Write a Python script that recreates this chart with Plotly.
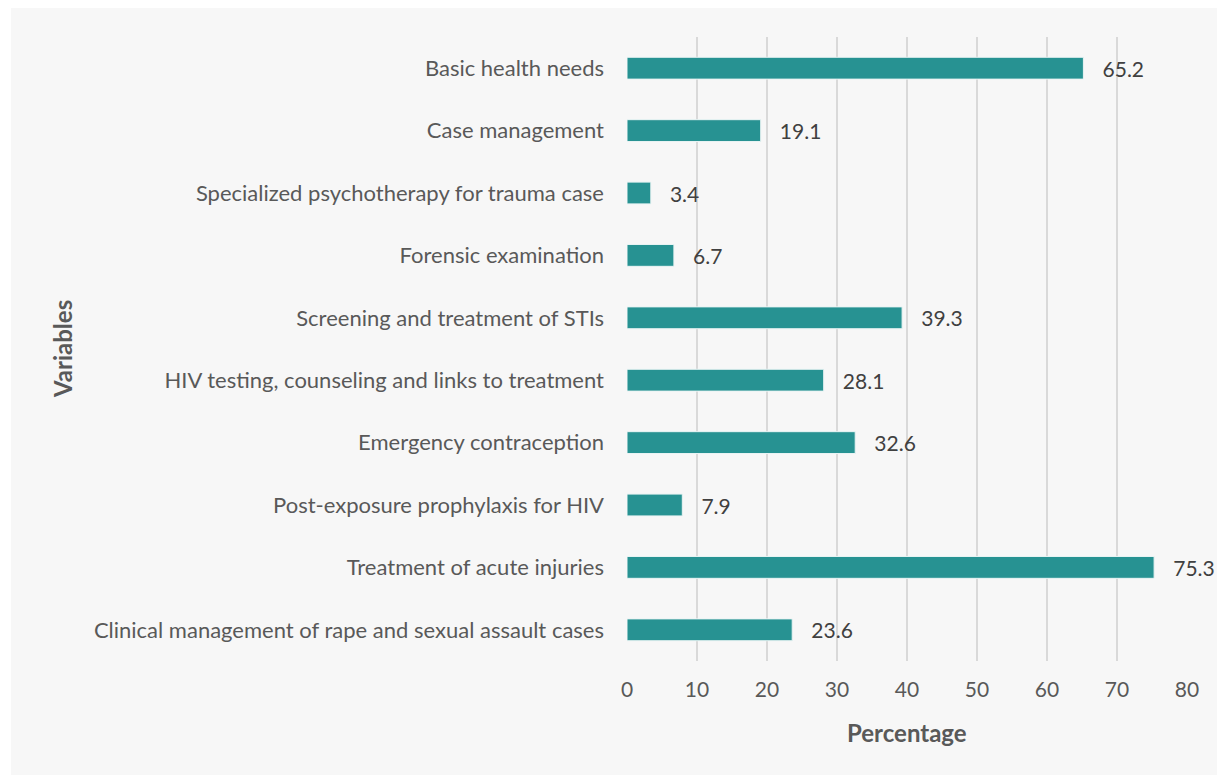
import plotly.graph_objects as go

categories = [
    "Clinical management of rape and sexual assault cases",
    "Treatment of acute injuries",
    "Post-exposure prophylaxis for HIV",
    "Emergency contraception",
    "HIV testing, counseling and links to treatment",
    "Screening and treatment of STIs",
    "Forensic examination",
    "Specialized psychotherapy for trauma case",
    "Case management",
    "Basic health needs",
]
values = [23.6, 75.3, 7.9, 32.6, 28.1, 39.3, 6.7, 3.4, 19.1, 65.2]
x_ticks = [0, 10, 20, 30, 40, 50, 60, 70, 80]

FONT = "Lato"
GREY = "#595959"
fig = go.Figure()
fig.add_trace(go.Bar(
    y=categories, x=values, orientation="h",
    width=0.35,
    marker=dict(color="#279292", line=dict(color="#eaf4f4", width=1)),
    text=["\u00a0\u00a0\u00a0" + f"{v:.1f}" for v in values], textposition="outside",
    textfont=dict(family=FONT, size=21, color="#404040"),
    constraintext="none",
    cliponaxis=False,
))

# page body has an 8px margin, so figure origin sits at (8, 8) in the window
W, H = 1217, 767
l, r, t, b = 619, 38, 29, 114
pw, ph = W - l - r, H - t - b

fig.add_shape(type="rect", xref="paper", yref="paper", layer="below",
              x0=(3 - l) / pw, x1=(W - l) / pw + 0.02,
              y0=-(b + 5) / ph, y1=(H - b) / ph + 0.01,
              fillcolor="#f7f7f7", line=dict(width=0))

fig.update_layout(
    width=W, height=H,
    margin=dict(l=l, r=r, t=t, b=b, pad=0),
    paper_bgcolor="white", plot_bgcolor="rgba(0,0,0,0)",
    showlegend=False,
    font=dict(family=FONT, color=GREY),
    xaxis=dict(range=[0, 80], tickvals=x_ticks, showgrid=True,
               gridcolor="#d9d9d9", gridwidth=1.5, zeroline=False,
               tickfont=dict(size=21, color=GREY),
               ticks="", ticklabelstandoff=14, automargin=False),
    yaxis=dict(showgrid=False, zeroline=False, ticks="",
               ticklabelstandoff=22,
               tickfont=dict(size=22, color=GREY),
               automargin=False),
    bargap=0.65,
)
fig.add_annotation(text="<b>Variables</b>", xref="paper", yref="paper",
                   x=(54 - l) / pw, y=0.5, textangle=-90, showarrow=False,
                   xanchor="center", yanchor="middle",
                   font=dict(family=FONT, size=24, color=GREY))
fig.add_annotation(text="<b>Percentage</b>", xref="paper", yref="paper",
                   x=0.5, y=(ph - (724 - t)) / ph, showarrow=False,
                   xanchor="center", yanchor="middle",
                   font=dict(family=FONT, size=24, color=GREY))
fig.write_html("out.html")
